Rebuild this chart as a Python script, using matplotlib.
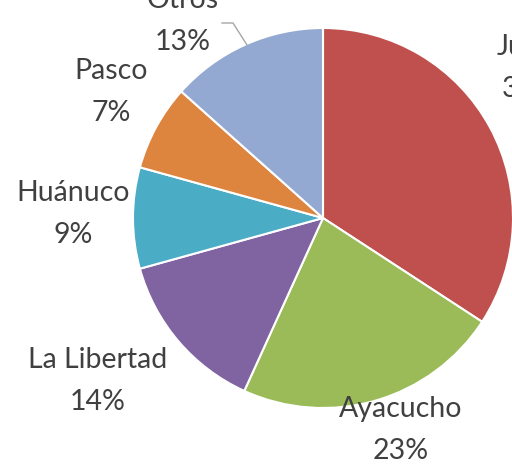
import matplotlib.pyplot as plt

regions = ["Junín", "Ayacucho", "La Libertad", "Huánuco", "Pasco", "Otros"]
shares = [34.2, 22.6, 13.9, 8.6, 7.3, 13.4]
colors = ["#C0504D", "#9BBB59", "#8064A2", "#4BACC6", "#DD843F", "#94A9D2"]

# label block centres in pixel coords (x, y from top)
label_pos = [(530, 68), (401, 430), (98, 381), (73, 214), (111, 92), (183, 21)]

W, H = 512, 468


def main():
    plt.rcParams["font.family"] = ["Lato", "DejaVu Sans"]
    fig = plt.figure(figsize=(W / 100, H / 100), dpi=100)
    ax = fig.add_axes([0, 0, 1, 1])

    ax.pie(shares, colors=colors, startangle=90, counterclock=False,
           center=(323, H - 218), radius=190,
           wedgeprops=dict(edgecolor="white", linewidth=1.5))

    total = sum(shares)
    for name, val, (x, y) in zip(regions, shares, label_pos):
        ax.text(x, H - y, "%s\n%d%%" % (name, round(val / total * 100)),
                ha="center", va="center", fontsize=20.5, color="#404040",
                linespacing=1.72)

    # leader line for Otros
    ax.plot([222, 233, 247], [H - 23, H - 23, H - 45], color="#A6A6A6", lw=1)

    ax.set_xlim(0, W)
    ax.set_ylim(0, H)
    ax.set_aspect("equal")
    ax.axis("off")
    fig.savefig("out.png", dpi=100)
    plt.close(fig)


if __name__ == "__main__":
    main()
